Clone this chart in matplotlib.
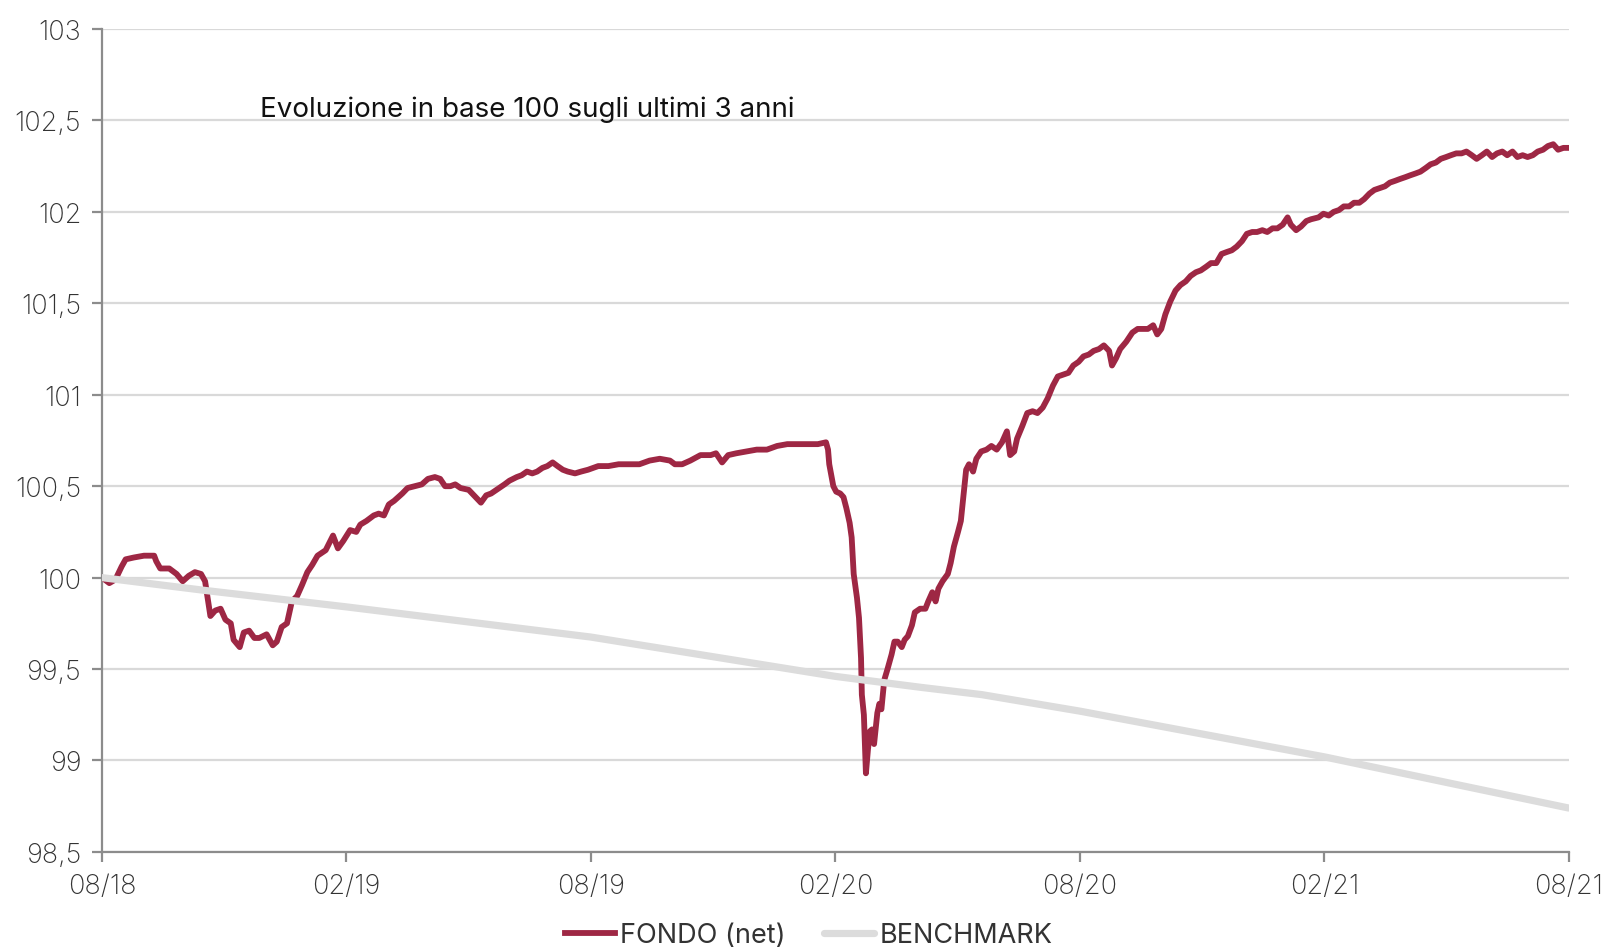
import matplotlib
matplotlib.use('Agg')
import matplotlib.pyplot as plt
import numpy as np

# months since 08/2018 and value (base 100)
fondo_m = [0, 0.18, 0.33, 0.48, 0.58, 0.78, 1.03, 1.28, 1.33, 1.43, 1.65, 1.83, 1.98, 2.13, 2.28, 2.43, 2.53,
           2.66, 2.78, 2.91, 3.03, 3.16, 3.23, 3.38, 3.48, 3.61, 3.74, 3.86, 4.04, 4.19, 4.29, 4.41, 4.54,
           4.66, 4.79, 4.91, 5.04, 5.16, 5.29, 5.49, 5.67, 5.79, 5.92, 6.09, 6.24, 6.34, 6.49, 6.67, 6.79,
           6.92, 7.04, 7.17, 7.37, 7.50, 7.67, 7.85, 8.00, 8.17, 8.30, 8.42, 8.55, 8.67, 8.80, 9.00, 9.13,
           9.30, 9.43, 9.55, 9.75, 9.88, 10.00, 10.18, 10.30, 10.43, 10.56, 10.68, 10.81, 10.93, 11.06,
           11.18, 11.31, 11.43, 11.61, 11.76, 11.93, 12.18, 12.43, 12.68, 12.94, 13.19, 13.44, 13.69,
           13.94, 14.06, 14.24, 14.44, 14.69, 14.94, 15.07, 15.22, 15.37, 15.57, 15.82, 16.07, 16.32,
           16.57, 16.82, 17.07, 17.32, 17.57, 17.77, 17.82, 17.85, 17.95, 18.02, 18.12, 18.20, 18.27,
           18.35, 18.40, 18.45, 18.53, 18.58, 18.63, 18.65, 18.70, 18.75, 18.80, 18.85, 18.90, 18.95,
           19.03, 19.08, 19.13, 19.20, 19.28, 19.38, 19.45, 19.53, 19.63, 19.70, 19.78, 19.88, 19.95,
           20.08, 20.21, 20.28, 20.38, 20.46, 20.53, 20.63, 20.76, 20.83, 20.91, 21.01, 21.08, 21.13,
           21.21, 21.28, 21.38, 21.46, 21.58, 21.71, 21.83, 21.96, 22.09, 22.21, 22.29, 22.39, 22.46,
           22.59, 22.71, 22.84, 22.96, 23.09, 23.21, 23.34, 23.46, 23.59, 23.72, 23.84, 23.97, 24.09,
           24.22, 24.34, 24.47, 24.59, 24.72, 24.79, 24.89, 24.99, 25.14, 25.29, 25.42, 25.55, 25.67,
           25.80, 25.90, 26.00, 26.10, 26.22, 26.35, 26.47, 26.60, 26.72, 26.85, 26.97, 27.10, 27.22,
           27.35, 27.48, 27.60, 27.73, 27.85, 27.98, 28.10, 28.23, 28.35, 28.48, 28.60, 28.73, 28.85,
           28.98, 29.10, 29.18, 29.31, 29.43, 29.56, 29.68, 29.86, 29.98, 30.11, 30.23, 30.36, 30.48,
           30.61, 30.73, 30.86, 30.98, 31.11, 31.23, 31.36, 31.49, 31.61, 31.74, 31.86, 31.99, 32.11,
           32.24, 32.36, 32.49, 32.61, 32.74, 32.86, 32.99, 33.11, 33.24, 33.37, 33.49, 33.62, 33.74,
           33.87, 33.99, 34.12, 34.24, 34.37, 34.49, 34.62, 34.74, 34.87, 34.99, 35.12, 35.24, 35.37,
           35.49, 35.62, 35.74, 35.87, 36.00]
fondo_v = [100.00, 99.97, 99.99, 100.06, 100.10, 100.11, 100.12, 100.12, 100.09, 100.05, 100.05, 100.02, 99.98,
           100.01, 100.03, 100.02, 99.98, 99.79, 99.82, 99.83, 99.77, 99.75, 99.66, 99.62, 99.70, 99.71,
           99.67, 99.67, 99.69, 99.63, 99.65, 99.73, 99.75, 99.87, 99.90, 99.96, 100.03, 100.07, 100.12,
           100.15, 100.23, 100.16, 100.20, 100.26, 100.25, 100.29, 100.31, 100.34, 100.35, 100.34, 100.40,
           100.42, 100.46, 100.49, 100.50, 100.51, 100.54, 100.55, 100.54, 100.50, 100.50, 100.51, 100.49,
           100.48, 100.45, 100.41, 100.45, 100.46, 100.49, 100.51, 100.53, 100.55, 100.56, 100.58, 100.57,
           100.58, 100.60, 100.61, 100.63, 100.61, 100.59, 100.58, 100.57, 100.58, 100.59, 100.61, 100.61,
           100.62, 100.62, 100.62, 100.64, 100.65, 100.64, 100.62, 100.62, 100.64, 100.67, 100.67, 100.68,
           100.63, 100.67, 100.68, 100.69, 100.70, 100.70, 100.72, 100.73, 100.73, 100.73, 100.73, 100.74,
           100.70, 100.62, 100.50, 100.47, 100.46, 100.44, 100.38, 100.30, 100.22, 100.02, 99.89, 99.78,
           99.56, 99.36, 99.25, 98.93, 99.06, 99.16, 99.17, 99.09, 99.26, 99.31, 99.28, 99.44, 99.50,
           99.58, 99.65, 99.65, 99.62, 99.66, 99.68, 99.74, 99.81, 99.83, 99.83, 99.87, 99.92, 99.87,
           99.94, 99.98, 100.02, 100.08, 100.17, 100.25, 100.31, 100.42, 100.59, 100.62, 100.58, 100.65,
           100.69, 100.70, 100.72, 100.70, 100.74, 100.80, 100.67, 100.69, 100.76, 100.83, 100.90, 100.91,
           100.90, 100.93, 100.98, 101.05, 101.10, 101.11, 101.12, 101.16, 101.18, 101.21, 101.22, 101.24,
           101.25, 101.27, 101.24, 101.16, 101.20, 101.25, 101.29, 101.34, 101.36, 101.36, 101.36, 101.38,
           101.33, 101.36, 101.44, 101.51, 101.57, 101.60, 101.62, 101.65, 101.67, 101.68, 101.70, 101.72,
           101.72, 101.77, 101.78, 101.79, 101.81, 101.84, 101.88, 101.89, 101.89, 101.90, 101.89, 101.91,
           101.91, 101.93, 101.97, 101.93, 101.90, 101.92, 101.95, 101.96, 101.97, 101.99, 101.98, 102.00,
           102.01, 102.03, 102.03, 102.05, 102.05, 102.07, 102.10, 102.12, 102.13, 102.14, 102.16, 102.17,
           102.18, 102.19, 102.20, 102.21, 102.22, 102.24, 102.26, 102.27, 102.29, 102.30, 102.31, 102.32,
           102.32, 102.33, 102.31, 102.29, 102.31, 102.33, 102.30, 102.32, 102.33, 102.31, 102.33, 102.30,
           102.31, 102.30, 102.31, 102.33, 102.34, 102.36, 102.37, 102.34, 102.35, 102.35]

bench_m = [0, 2.53, 6.0, 12.0, 18.0, 20.1, 21.6, 24.0, 30.0, 36.0]
bench_v = [100.0, 99.93, 99.84, 99.675, 99.46, 99.40, 99.36, 99.27, 99.02, 98.74]

tick_m = [0, 6, 12, 18, 24, 30, 36]
tick_lab = ['08/18', '02/19', '08/19', '02/20', '08/20', '02/21', '08/21']
y_ticks = [98.5, 99, 99.5, 100, 100.5, 101, 101.5, 102, 102.5, 103]

red = '#9E2744'
grey = '#DCDCDC'
txtc = '#333333'

plt.rcParams['font.family'] = ['Inter', 'DejaVu Sans']

fig = plt.figure(figsize=(16.04, 9.53), dpi=100)
ax = fig.add_axes([0.0636, 0.105, 0.9144, 0.8635])

ax.plot(fondo_m, fondo_v, color=red, lw=4.2, solid_joinstyle='round', label='FONDO (net)', zorder=3)
ax.plot(bench_m, bench_v, color=grey, lw=5.2, solid_capstyle='round', label='BENCHMARK', zorder=4)

ax.set_xlim(0, 36)
ax.set_ylim(98.5, 103)
ax.set_yticks(y_ticks)
ax.set_yticklabels([('%g' % t).replace('.', ',') for t in y_ticks])
ax.set_xticks(tick_m)
ax.set_xticklabels(tick_lab)
ax.grid(axis='y', color='#D9D9D9', lw=1.6)
ax.set_axisbelow(True)

for s in ['top', 'right']:
    ax.spines[s].set_visible(False)
for s in ['left', 'bottom']:
    ax.spines[s].set_color('#8C8C8C')
    ax.spines[s].set_linewidth(1.6)
ax.tick_params(axis='both', color='#8C8C8C', width=1.6, length=7, labelsize=19.5,
               labelcolor=txtc, pad=8)
for lab in ax.get_xticklabels() + ax.get_yticklabels():
    lab.set_fontweight('light')

ax.text(0.1077, 0.894, 'Evoluzione in base 100 sugli ultimi 3 anni', transform=ax.transAxes,
        fontsize=20, color='#111111', va='baseline', ha='left')

# legend at the bottom edge (kept inside the figure)
fig.legend(loc='lower center', bbox_to_anchor=(0.504, -0.013), ncol=2, frameon=False, fontsize=19.5,
           handlelength=1.85, handletextpad=0.2, columnspacing=1.4, labelcolor=txtc,
           borderpad=0.1)

fig.savefig('out.png', dpi=100)
